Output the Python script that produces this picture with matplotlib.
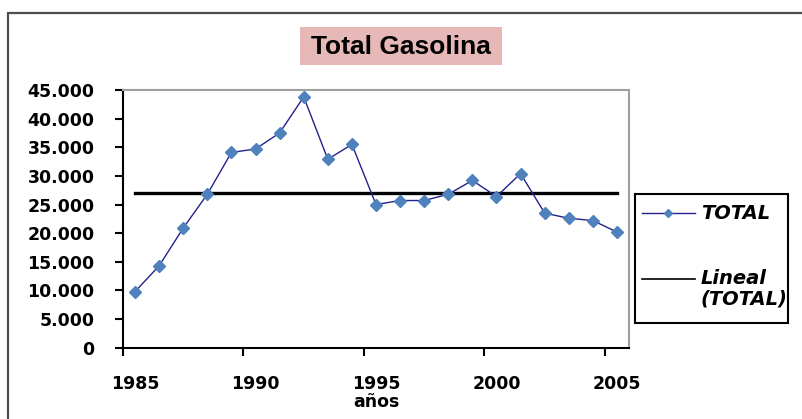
import matplotlib
matplotlib.use('Agg')
import matplotlib.pyplot as plt
from matplotlib.patches import Rectangle
from matplotlib.lines import Line2D
from matplotlib.font_manager import FontProperties
import numpy as np

# ---- data ----
years = [1985, 1986, 1987, 1988, 1989, 1990, 1991, 1992, 1993, 1994, 1995,
         1996, 1997, 1998, 1999, 2000, 2001, 2002, 2003, 2004, 2005]
total = [9800, 14300, 20900, 26800, 34100, 34700, 37500, 43800, 32900, 35500, 25000,
         25700, 25700, 26800, 29200, 26400, 30400, 23500, 22600, 22200, 20200]
trend = [27000, 27000]  # linear trend at first and last year
y_ticks = [0, 5000, 10000, 15000, 20000, 25000, 30000, 35000, 40000, 45000]
y_tick_labels = ['0', '5.000', '10.000', '15.000', '20.000', '25.000',
                 '30.000', '35.000', '40.000', '45.000']
x_tick_labels = ['1985', '1990', '1995', '2000', '2005']
title = 'Total Gasolina'
x_label = 'años'
series_label = 'TOTAL'
trend_label = ['Lineal', '(TOTAL)']

LINE_C = '#22228A'
MARK_C = '#4F81BD'

W, H = 803, 419
fig = plt.figure(figsize=(W / 100, H / 100), dpi=100)
fig.patch.set_facecolor('white')

def fx(px):
    return px / W

def fy(py):
    return 1 - py / H

# outer chart frame (extends past right/bottom edges)
fig.patches.append(Rectangle((fx(8), -0.1), 1.2, 1.1 - 13.5 / H, transform=fig.transFigure,
                             fill=False, edgecolor='#4d4d4d', linewidth=1.6, clip_on=False))

# title box
fig.patches.append(Rectangle((fx(300), fy(65)), 202 / W, 38 / H, transform=fig.transFigure,
                             facecolor='#E6B9B8', edgecolor='none'))
fig.text(fx(401), fy(47), title, ha='center', va='center',
         fontsize=19, fontweight='bold', family='Liberation Sans', color='black')

ax = fig.add_axes([fx(123), fy(347.7), (629 - 123) / W, (347.7 - 90) / H])
x = np.arange(len(years))
ax.plot(x, total, color=LINE_C, lw=1.0, marker='D', ms=5.8,
        mfc=MARK_C, mec=MARK_C, zorder=3)
ax.plot([x[0], x[-1]], trend, color='black', lw=2.4, zorder=2)

ax.set_xlim(-0.5, len(years) - 0.5)
ax.set_ylim(y_ticks[0], y_ticks[-1])
ax.set_yticks(y_ticks)
ax.set_yticklabels(y_tick_labels)

# category axis: tick marks on bin boundaries, labels at the points
lab_idx = [years.index(int(s)) for s in x_tick_labels]
ax.set_xticks([i - 0.5 for i in lab_idx])
ax.set_xticklabels([])
ax.set_xticks(lab_idx, minor=True)
ax.set_xticklabels(x_tick_labels, minor=True)

tick_fp = FontProperties(family='DejaVu Sans', weight='bold', size=12.5)
for lab in ax.get_yticklabels() + ax.get_xticklabels(minor=True):
    lab.set_fontproperties(tick_fp)

ax.tick_params(axis='y', which='major', direction='out', length=6, width=1.5, pad=14.5, color='black')
ax.tick_params(axis='x', which='major', direction='out', length=6, width=1.5, color='black')
ax.tick_params(axis='x', which='minor', length=0, pad=19.5)

for s in ['left', 'bottom']:
    ax.spines[s].set_color('black')
    ax.spines[s].set_linewidth(1.5)
for s in ['top', 'right']:
    ax.spines[s].set_color('#A0A0A0')
    ax.spines[s].set_linewidth(1.5)

ax.set_xlabel(x_label, fontsize=12.5, fontweight='bold', family='DejaVu Sans', labelpad=0.5)

# legend (drawn manually to match the original box)
fig.patches.append(Rectangle((fx(635), fy(323)), (788 - 635) / W, (323 - 194) / H,
                             transform=fig.transFigure, facecolor='white',
                             edgecolor='black', linewidth=1.5, zorder=5))
leg_fp = FontProperties(family='DejaVu Sans', weight='bold', style='italic', size=14)
fig.lines.append(Line2D([fx(642), fx(695)], [fy(213), fy(213)], transform=fig.transFigure,
                        color=LINE_C, lw=1.0, zorder=6))
fig.lines.append(Line2D([fx(668)], [fy(213)], transform=fig.transFigure, marker='D', ms=4.0,
                        mfc=MARK_C, mec=MARK_C, lw=0, zorder=7))
fig.text(fx(701), fy(213), series_label, ha='left', va='center', fontproperties=leg_fp, zorder=8)
fig.lines.append(Line2D([fx(642), fx(695)], [fy(279), fy(279)], transform=fig.transFigure,
                        color='black', lw=1.2, zorder=6))
fig.text(fx(701), fy(279), trend_label[0], ha='left', va='center', fontproperties=leg_fp, zorder=8)
fig.text(fx(701), fy(299), trend_label[1], ha='left', va='center', fontproperties=leg_fp, zorder=8)

fig.savefig('out.png', dpi=100, facecolor='white')
